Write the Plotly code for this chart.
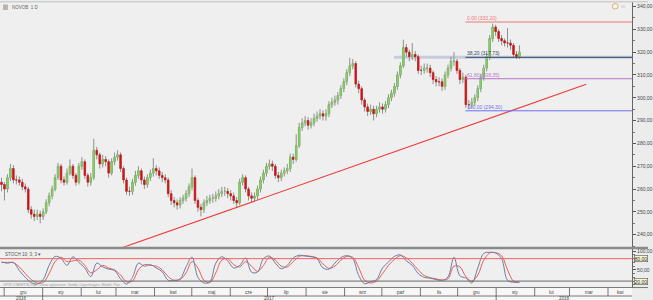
import pandas as pd
import plotly.graph_objects as go

W, H = 653, 300

# ---------------- data ----------------
open_ = [float(v) for v in """
263 262 260 265 269 264 264 263 261 260 251 249 248 249 248 250 254 257 260 265
270 264 263 267 270 266 263 270 272 266 263 265 277 275 271 273 272 267 272 274
275 269 264 259 259 263 266 268 264 262 265 267 269 268 266 265 264 258 255 254
253 255 256 258 261 265 255 252 251 254 255 256 256 257 258 259 259 258 257 255
254 263 265 260 257 256 257 260 264 267 270 271 270 266 265 267 268 269 274 273
279 287 289 290 288 289 291 292 293 292 293 297 298 299 301 304 307 311 314 315
306 304 299 296 294 295 293 295 296 295 297 300 302 305 310 314 322 320 318 319
318 312 312 313 313 311 308 307 307 305 310 313 316 316 312 308 309 297 297 298
300 304 309 313 318 326 331 329 326 325 324 324 323 319 318
""".split()]
high = [float(v) for v in """
265 263 266.5 271 270.5 266 265.5 264.5 262.5 261 252.5 251 251 250.5 251.5 255.5 258.5 261.5 266.5 271.5
271 265.5 269 273 271 267 271.5 274 273 267 267 282 278.5 276 275 274.5 273 273.5 276 277
276 270 265 261 264.5 268 270 269 265.5 266.5 268.5 273.5 270.5 269.5 267.5 266.5 265 259.5 256.5 255.5
256.5 257.5 259.5 262.5 269 266 256 253.5 255.5 257 257.5 258 259 260 261 261 260.5 259.5 258.5 256.5
264.5 266.5 266 261 258.5 258.5 261.5 265.5 268.5 271.5 273 272.5 271 267.5 268.5 269.5 271 275.5 275.5 284
289 291 292 291.5 291 293 294 295 294.5 295 298.5 300 301 302.5 305.5 308.5 312.5 317.5 317 316
307.5 305 300 297.5 297 296.5 296.5 298 297.5 298.5 301.5 303.5 306.5 311.5 315.5 325.5 323.5 321 324 320.5
319 314 315 315 314.5 312 309.5 309 308.5 311.5 314.5 318 320 317 313 311 310 299 300 301.5
305.5 310.5 314.5 319.5 327.5 332.5 332 330 327.5 326 330.5 325.5 324 320.5 323
""".split()]
low = [float(v) for v in """
259 255 258.5 263.5 262.5 262 261.5 259.5 258.5 249.5 247 246 246.5 245 246.5 249 252.5 255.5 259 264
262.5 261.5 262 266 264.5 261.5 262 268.5 264.5 261 261.5 264 273 269 269.5 270 265 266 270.5 272.5
267.5 262.5 257.5 257 257.5 261.5 264.5 262 260 260.5 263.5 265.5 266 264.5 263 262.5 256.5 253 252 251
251.5 253.5 254.5 256.5 259.5 253.5 250 248 249.5 252.5 253.5 254 254.5 255.5 256.5 257 256 255 253.5 252
253 261.5 258.5 255 254 254.5 255.5 258.5 262.5 265.5 268.5 268 264.5 263 263.5 265.5 266.5 267.5 271 272
278 285.5 287.5 286 286.5 287.5 289.5 290.5 290 290 291.5 295.5 296.5 297 299.5 302.5 305.5 309.5 312.5 304.5
302 297 294 292 292.5 290 291.5 293.5 293 293.5 295.5 298.5 300.5 303.5 308.5 313 318 316 316.5 316
310.5 310 310.5 311 309 306 305 305 303 303.5 308.5 311.5 314 310.5 306 306.5 295.5 295 295.5 296.5
298.5 302.5 307.5 311.5 316.5 324.5 327 324.5 323 322.5 322 321 317.5 317 317
""".split()]
close = [float(v) for v in """
262 260 265 269 264 264 263 261 260 251 249 248 249 248 250 254 257 260 265 270
264 263 267 270 266 263 270 272 266 263 265 277 275 271 273 272 267 272 274 275
269 264 259 259 263 266 268 264 262 265 267 269 268 266 265 264 258 255 254 253
255 256 258 261 265 255 252 251 254 255 256 256 257 258 259 259 258 257 255 254
263 265 260 257 256 257 260 264 267 270 271 270 266 265 267 268 269 274 273 279
287 289 290 288 289 291 292 293 292 293 297 298 299 301 304 307 311 314 315 306
304 299 296 294 295 293 295 296 295 297 300 302 305 310 314 322 320 318 319 318
312 312 313 313 311 308 307 307 305 310 313 316 316 312 308 309 297 297 298 300
304 309 313 318 326 331 329 326 325 324 324 323 319 318 320
""".split()]

# bar time positions
dates = pd.date_range("2016-11-28 20:30", periods=len(close), freq="57h30min")

stoch_k = [71, 68, 70, 48, 30, 16, 12, 24, 62, 86,
           81, 62, 85, 70, 55, 32, 68, 58, 52, 48,
           26, 12, 30, 68, 60, 64, 55, 45, 22, 22,
           26, 58, 84, 30, 15, 18, 68, 85, 74, 55,
           62, 82, 44, 44, 80, 87, 68, 53, 62, 82,
           89, 87, 85, 80, 55, 52, 68, 83, 88, 80,
           35, 13, 18, 24, 55, 71, 86, 90, 74, 62,
           40, 30, 28, 24, 22, 31, 84, 34, 28, 15,
           55, 94, 97, 95, 80, 22, 17, 17]
stoch_d = [70, 70, 69, 58, 40, 24, 15, 16, 40, 72,
           84, 72, 74, 76, 62, 42, 50, 62, 55, 50,
           36, 18, 20, 50, 64, 62, 60, 50, 32, 22,
           24, 42, 72, 55, 22, 16, 42, 76, 80, 64,
           58, 72, 60, 46, 62, 84, 76, 60, 58, 72,
           86, 88, 86, 82, 66, 54, 60, 76, 86, 84,
           56, 22, 15, 20, 40, 62, 78, 88, 82, 68,
           50, 35, 29, 26, 23, 26, 60, 58, 32, 20,
           36, 76, 95, 96, 88, 50, 20, 17]
stoch_dates = dates[::2]
stoch_levels = [80, 20]

# Fibonacci retracement
fib_pct = ["0,00", "38,20", "61,80", "100,00"]
fib_price = [333.20, 317.73, 308.35, 294.30]
fib_colors = ["#ee7777", "#3c4664", "#b676c8", "#6f6ff5"]
fib_start = "2017-12-07 06:00"
band_start = "2017-10-10 17:00"

# trend line end points
trend_x = ["2017-03-05 21:00", "2018-03-14 10:30"]
trend_y = [234.3, 305.9]

price_ticks = list(range(240, 341, 10))
month_names = ["lis", "gru", "sty", "lut", "mar", "kwi", "maj", "cze", "lip", "sie",
               "wrz", "paź", "lis", "gru", "sty", "lut", "mar", "kwi"]
month_starts = pd.date_range("2016-11-01", periods=19, freq="MS")
years = ["2016", "2017", "2018"]

X0 = pd.Timestamp("2016-11-27 15:46")
X1 = pd.Timestamp("2018-04-20 10:00")

# ---------------- helpers ----------------
def px(x):
    return x / W

def py(y):
    return 1 - y / H

FONT = "Liberation Sans, Arial, sans-serif"
XDOM = [0, px(637)]

fig = go.Figure()

# wicks (grey)
fig.add_trace(go.Candlestick(
    x=dates, open=open_, high=high, low=low, close=close,
    increasing=dict(line=dict(color="#8f8f8f", width=1), fillcolor="#8f8f8f"),
    decreasing=dict(line=dict(color="#8f8f8f", width=1), fillcolor="#8f8f8f"),
    showlegend=False, hoverinfo="skip", xaxis="x", yaxis="y"))
# bodies
body_hi = [max(o, c) for o, c in zip(open_, close)]
body_lo = [min(o, c) for o, c in zip(open_, close)]
fig.add_trace(go.Candlestick(
    x=dates, open=open_, high=body_hi, low=body_lo, close=close,
    increasing=dict(line=dict(color="#76c653", width=0.5), fillcolor="#86d463"),
    decreasing=dict(line=dict(color="#dd0b0b", width=0.5), fillcolor="#e01010"),
    showlegend=False, hoverinfo="skip", xaxis="x", yaxis="y"))

# trend line
fig.add_trace(go.Scatter(x=trend_x, y=trend_y, mode="lines",
                         line=dict(color="#f03a3a", width=1.1),
                         showlegend=False, hoverinfo="skip", xaxis="x", yaxis="y"))

# stochastic lines
fig.add_trace(go.Scatter(x=stoch_dates, y=stoch_d, mode="lines", line=dict(color="#f25a5a", width=1),
                         line_shape="spline", showlegend=False, hoverinfo="skip", xaxis="x2", yaxis="y2"))
fig.add_trace(go.Scatter(x=stoch_dates, y=stoch_k, mode="lines", line=dict(color="#6a7fa0", width=1),
                         line_shape="spline", showlegend=False, hoverinfo="skip", xaxis="x2", yaxis="y2"))

shapes = []
annotations = []

# support band + fib lines
shapes.append(dict(type="line", xref="x", yref="y", x0=band_start, x1=X1,
                   y0=fib_price[1], y1=fib_price[1], line=dict(color="#c3cde0", width=3), layer="below"))
for p, lab, col in zip(fib_price, fib_pct, fib_colors):
    shapes.append(dict(type="line", xref="x", yref="y", x0=fib_start, x1=X1, y0=p, y1=p,
                       line=dict(color=col, width=1)))
    annotations.append(dict(xref="x", yref="y", x=fib_start, y=p, text=f"{lab} ({p:.2f})".replace(".", ","),
                            showarrow=False, xanchor="left", yanchor="bottom", yshift=-1,
                            font=dict(size=5, color=col, family=FONT)))

# stoch level lines
shapes.append(dict(type="line", xref="paper", yref="y2", x0=0, x1=XDOM[1], y0=80, y1=80,
                   line=dict(color="#f06060", width=1)))
shapes.append(dict(type="line", xref="paper", yref="y2", x0=0, x1=XDOM[1], y0=20, y1=20,
                   line=dict(color="#6a6a6a", width=1)))
for lv in stoch_levels:
    annotations.append(dict(xref="paper", yref="y2", x=px(638.5), y=lv, text=f"{lv},00",
                            showarrow=False, xanchor="left", yanchor="middle",
                            bgcolor="#f7f4cf", bordercolor="#555555", borderwidth=0.6, borderpad=0,
                            font=dict(size=5, color="#333333", family=FONT)))

# frame: top bar, pane separator
shapes.append(dict(type="rect", xref="paper", yref="paper", x0=0, x1=1, y0=py(1.5), y1=1,
                   fillcolor="#cfcfcf", line=dict(width=0)))
shapes.append(dict(type="rect", xref="paper", yref="paper", x0=0, x1=1, y0=py(249), y1=py(246.5),
                   fillcolor="#8a8a8a", line=dict(width=0)))
shapes.append(dict(type="line", xref="paper", yref="paper", x0=0, x1=1, y0=py(287.5), y1=py(287.5),
                   line=dict(color="#777777", width=1)))

# small toolbar icons (top right of the price pane)
shapes.append(dict(type="circle", xref="paper", yref="paper", x0=px(617), x1=px(623), y0=py(8), y1=py(2.5),
                   fillcolor="#f2f2f2", line=dict(color="#d9a15a", width=0.8)))
shapes.append(dict(type="rect", xref="paper", yref="paper", x0=px(626), x1=px(630), y0=py(7), y1=py(4),
                   fillcolor="#dddddd", line=dict(width=0)))

# time bar
shapes.append(dict(type="rect", xref="paper", yref="paper", x0=0, x1=XDOM[1], y0=0, y1=py(288),
                   fillcolor="#f7f7f7", line=dict(width=0)))
shapes.append(dict(type="line", xref="paper", yref="paper", x0=0, x1=XDOM[1], y0=py(296), y1=py(296),
                   line=dict(color="#555555", width=0.8)))
for i in range(len(month_starts) - 1):
    a, b = month_starts[i], month_starts[i + 1]
    if X0 < a < X1:
        shapes.append(dict(type="line", xref="x", yref="paper", x0=a, x1=a, y0=py(296), y1=py(288),
                           line=dict(color="#555555", width=0.8)))
    lo, hi = max(a, X0), min(b, X1)
    if (hi - lo).days >= 12:
        annotations.append(dict(xref="x", yref="paper", x=lo + (hi - lo) / 2, y=py(292.2),
                                text=month_names[i], showarrow=False, yanchor="middle",
                                font=dict(size=4.5, color="#444444", family=FONT)))
year_edges = [X0, pd.Timestamp("2017-01-01"), pd.Timestamp("2018-01-01"), X1]
for i, yl in enumerate(years):
    a, b = year_edges[i], year_edges[i + 1]
    if i > 0:
        shapes.append(dict(type="line", xref="x", yref="paper", x0=a, x1=a, y0=0, y1=py(296),
                           line=dict(color="#555555", width=0.8)))
    annotations.append(dict(xref="x", yref="paper", x=a + (b - a) / 2, y=py(298.6), text=yl,
                            showarrow=False, yanchor="middle",
                            font=dict(size=4.5, color="#444444", family=FONT)))

# titles
shapes.append(dict(type="rect", xref="paper", yref="paper", x0=px(3), x1=px(8), y0=py(9), y1=py(3.5),
                   fillcolor="#b5b5b5", line=dict(width=0)))
annotations.append(dict(xref="paper", yref="paper", x=px(10), y=py(6.3), text="NOVOB  1 D",
                        showarrow=False, xanchor="left", yanchor="middle",
                        font=dict(size=4.5, color="#666666", family=FONT)))
annotations.append(dict(xref="paper", yref="paper", x=px(3), y=py(254.5), text="STOCH 10; 3; 3 ▾",
                        showarrow=False, xanchor="left", yanchor="middle",
                        font=dict(size=4.5, color="#555555", family=FONT)))
annotations.append(dict(xref="paper", yref="paper", x=px(1), y=py(284.5),
                        text="GPW ONEMTINOVA - Dane opóźnione: Giełda Copenhagen, Model: Pan",
                        showarrow=False, xanchor="left", yanchor="middle",
                        font=dict(size=3.6, color="#9a9a9a", family=FONT)))

axis_common = dict(showgrid=False, zeroline=False, fixedrange=True)
fig.update_layout(
    width=W, height=H, margin=dict(l=0, r=0, t=0, b=0),
    paper_bgcolor="#ececec", plot_bgcolor="#efefef",
    separators=",.",
    font=dict(family=FONT, size=6, color="#333333"),
    showlegend=False,
    xaxis=dict(domain=XDOM, range=[X0, X1], type="date", anchor="y", showticklabels=False,
               rangeslider=dict(visible=False), ticks="", **axis_common),
    xaxis2=dict(domain=XDOM, range=[X0, X1], type="date", anchor="y2", matches="x",
                showticklabels=False, ticks="", **axis_common),
    yaxis=dict(domain=[py(246.5), py(1.5)], range=[234.76, 341.75], side="right", anchor="x",
               tickvals=price_ticks, tickformat=".2f", ticks="outside", ticklen=3, tickcolor="#555555",
               showline=True, linecolor="#666666", linewidth=1,
               tickfont=dict(size=5, color="#444444", family=FONT),
               minor=dict(dtick=5, ticks="outside", ticklen=2, tickcolor="#777777"),
               **axis_common),
    yaxis2=dict(domain=[py(287.5), py(249)], range=[2.7, 105.4], side="right", anchor="x2",
                tickvals=[0, 50, 100], tickformat=".2f", ticks="outside", ticklen=3, tickcolor="#555555",
                showline=True, linecolor="#666666", linewidth=1,
                tickfont=dict(size=5, color="#444444", family=FONT),
                minor=dict(dtick=10, ticks="outside", ticklen=2, tickcolor="#777777"),
                **axis_common),
    shapes=shapes, annotations=annotations,
)

fig.write_html("out.html")
